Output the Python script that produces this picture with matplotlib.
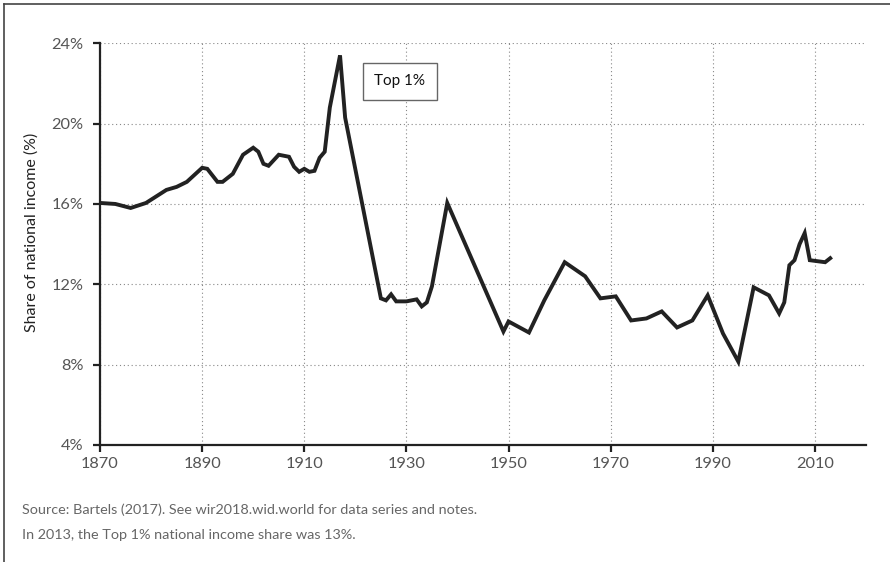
import matplotlib
matplotlib.use("Agg")
import matplotlib.pyplot as plt
from matplotlib.lines import Line2D
from matplotlib.ticker import FuncFormatter

plt.rcParams['font.family'] = ['Lato', 'DejaVu Sans']

# Top 1% share of national income (%)
years = [1870, 1873, 1876, 1879, 1883, 1885, 1887, 1890, 1891, 1893, 1894,
         1896, 1898, 1900, 1901, 1902, 1903, 1905, 1907, 1908, 1909, 1910,
         1911, 1912, 1913, 1914, 1915, 1917, 1918, 1925, 1926, 1927, 1928,
         1930, 1932, 1933, 1934, 1935, 1938, 1949, 1950, 1954, 1957, 1961,
         1965, 1968, 1971, 1974, 1977, 1980, 1983, 1986, 1989, 1992, 1995,
         1998, 2001, 2003, 2004, 2005, 2006, 2007, 2008, 2009, 2012, 2013]
share = [16.05, 16.0, 15.8, 16.05, 16.7, 16.85, 17.1, 17.8, 17.75, 17.1, 17.1,
         17.5, 18.45, 18.8, 18.6, 18.0, 17.9, 18.45, 18.35, 17.85, 17.6, 17.75,
         17.6, 17.65, 18.3, 18.6, 20.8, 23.4, 20.3, 11.3, 11.2, 11.5, 11.15,
         11.15, 11.25, 10.9, 11.1, 11.9, 16.05, 9.65, 10.15, 9.6, 11.2, 13.1,
         12.4, 11.3, 11.4, 10.2, 10.3, 10.65, 9.85, 10.2, 11.45, 9.55, 8.15,
         11.85, 11.45, 10.55, 11.1, 12.95, 13.2, 14.0, 14.55, 13.2, 13.1, 13.3]

xticks = [1870, 1890, 1910, 1930, 1950, 1970, 1990, 2010]
yticks = [4, 8, 12, 16, 20, 24]

fig = plt.figure(figsize=(8.9, 5.62), dpi=100)
ax = fig.add_axes([0.1124, 0.2082, 0.8606, 0.7148])

ax.plot(years, share, color='#222222', lw=2.8, solid_joinstyle='miter')

ax.set_xlim(1870, 2020)
ax.set_ylim(4, 24)
ax.set_xticks(xticks)
ax.set_yticks(yticks)
ax.yaxis.set_major_formatter(FuncFormatter(lambda v, p: f"{v:.0f}%"))
ax.grid(True, linestyle=(0, (1, 2.5)), color='#888888', lw=0.8)
ax.tick_params(direction='out', length=5, width=1.6, color='#222222',
               labelsize=11.8, labelcolor='#555555')
ax.tick_params(axis='y', pad=7)
ax.tick_params(axis='x', pad=4)
for s in ['top', 'right']:
    ax.spines[s].set_visible(False)
for s in ['left', 'bottom']:
    ax.spines[s].set_linewidth(1.6)
    ax.spines[s].set_color('#222222')

fig.text(32 / 890, 1 - 232 / 562, 'Share of national income (%)', fontsize=11.5,
         color='#222222', rotation=90, ha='center', va='center')

ax.text(1928.7, 22.1, 'Top 1%', fontsize=11, color='#111111',
        ha='center', va='center',
        bbox=dict(boxstyle='square,pad=0.75', fc='white', ec='#666666', lw=1))

fig.text(22 / 890, 1 - 510 / 562, 'Source: Bartels (2017). See wir2018.wid.world for data series and notes.',
         fontsize=10.4, color='#666666', va='center')
fig.text(22 / 890, 1 - 535 / 562, 'In 2013, the Top 1% national income share was 13%.',
         fontsize=10.4, color='#666666', va='center')

# outer frame (top and left edges)
fig.add_artist(Line2D([4 / 890, 1], [1 - 4 / 562, 1 - 4 / 562], color='#444444', lw=1.2))
fig.add_artist(Line2D([4 / 890, 4 / 890], [0, 1 - 4 / 562], color='#444444', lw=1.2))

fig.savefig('out.png', dpi=100)
